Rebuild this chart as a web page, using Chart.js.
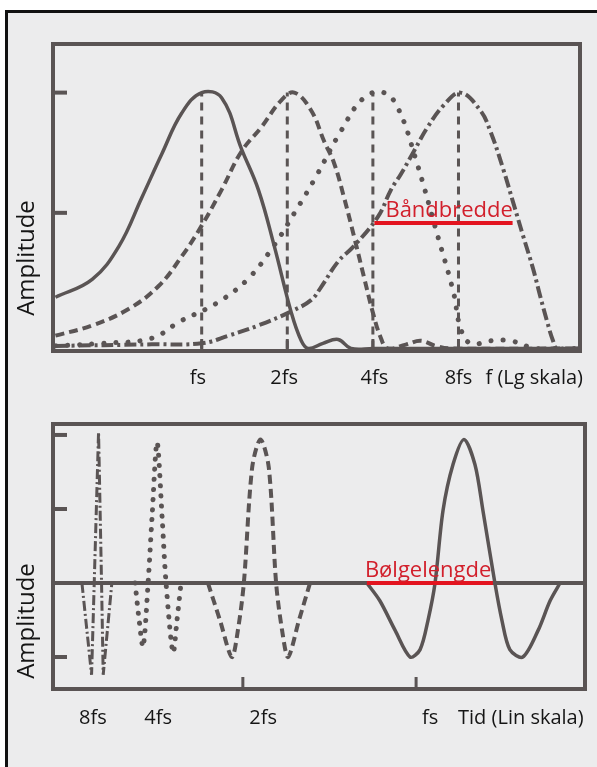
<!DOCTYPE html>
<html>
<head>
<meta charset="utf-8">
<script src="https://cdn.jsdelivr.net/npm/chart.js@4.4.1/dist/chart.umd.min.js"></script>
<style>
  html, body { margin: 0; padding: 0; background: #fff; }
  body { width: 597px; height: 767px; overflow: hidden; position: relative; }
  #paper { position: absolute; left: 5px; top: 10px; width: 700px; height: 800px;
           border: 3px solid #111; background: #ececed; }
  canvas { position: absolute; left: 0; }
  #top { top: 0; }
  #bottom { top: 400px; }
</style>
</head>
<body>
<div id="paper"></div>
<canvas id="top" width="597" height="400"></canvas>
<canvas id="bottom" width="597" height="367"></canvas>
<script>
// ---- top panel: amplitude spectra (frequency in units of fs, log scale)
const fSolid = [0.306, 0.412, 0.512, 0.616, 0.724, 0.851, 1.0, 1.175, 1.38, 1.583, 1.80, 2.066, 2.24, 2.37, 2.67, 3.02, 3.35, 4.0, 21.4];
const aSolid = [0.20, 0.27, 0.40, 0.59, 0.76, 0.92, 1.0, 0.98, 0.78, 0.62, 0.40, 0.14, 0.03, 0.0, 0.02, 0.035, 0.0, 0.0, 0.0];

const fDash = [0.306, 0.412, 0.555, 0.707, 0.851, 1.0, 1.175, 1.38, 1.622, 1.905, 2.116, 2.427, 2.695, 2.92, 3.167, 3.43, 3.72, 4.0, 4.27, 4.51, 5.22, 5.89, 6.65, 7.5, 21.4];
const aDash = [0.05, 0.09, 0.155, 0.245, 0.36, 0.48, 0.62, 0.77, 0.865, 0.97, 1.0, 0.93, 0.81, 0.725, 0.59, 0.44, 0.28, 0.14, 0.04, 0.0, 0.015, 0.03, 0.01, 0.0, 0.0];

const fDot = [0.306, 0.447, 0.668, 0.837, 1.12, 1.45, 1.79, 2.12, 2.49, 3.09, 3.72, 4.37, 4.90, 5.66, 6.76, 7.68, 8.13, 8.81, 10.5, 12.2, 15.0, 21.4];
const aDot = [0.01, 0.02, 0.04, 0.105, 0.175, 0.27, 0.40, 0.53, 0.66, 0.85, 0.98, 1.0, 0.94, 0.74, 0.44, 0.22, 0.08, 0.02, 0.03, 0.03, 0.0, 0.0];

const fDashDot = [0.306, 0.668, 1.0, 1.243, 1.583, 2.066, 2.43, 2.63, 3.02, 3.43, 4.17, 4.63, 5.01, 5.57, 6.23, 7.09, 8.13, 9.55, 10.35, 11.5, 12.46, 13.5, 14.65, 15.5, 16.4, 17.2, 17.8, 21.4];
const aDashDot = [0.01, 0.016, 0.02, 0.05, 0.09, 0.145, 0.19, 0.24, 0.34, 0.40, 0.515, 0.62, 0.68, 0.77, 0.865, 0.95, 1.0, 0.93, 0.85, 0.70, 0.57, 0.44, 0.31, 0.205, 0.105, 0.03, 0.0, 0.0];

const peakFreqs = [1, 2, 4, 8];
const freqLabels = ['fs', '2fs', '4fs', '8fs'];
const freqLabelPos = [0.97, 1.95, 4.05, 8];
const ampTicksTop = [0.53, 1];
const bandF = [4.05, 12.4];
const bandA = 0.49;

// ---- bottom panel: wavelets in time (linear scale, ms)
const tSolid = [94.4, 98.3, 102.9, 107.4, 110.4, 112.8, 114.9, 117.3, 120.3, 123.6, 126.9, 129.3, 132.9, 135.0, 137.4, 141.3, 145.9, 149.5, 152.5];
const wSolid = [0, -0.12, -0.32, -0.5, -0.45, -0.25, 0, 0.49, 0.80, 0.97, 0.80, 0.49, 0, -0.25, -0.45, -0.5, -0.32, -0.12, 0];

const tDash = [46.6, 50.2, 53.8, 55.6, 57.4, 59.9, 62.4, 64.9, 67.1, 68.9, 70.7, 74.0, 77.3];
const wDash = [0, -0.25, -0.5, -0.32, 0, 0.78, 0.97, 0.78, 0, -0.32, -0.5, -0.25, 0];

const tDot = [24.7, 25.9, 27.1, 28.6, 29.8, 31.3, 32.8, 34.0, 36.1, 37.3, 38.5];
const wDot = [0, -0.25, -0.43, 0, 0.45, 0.95, 0.45, 0, -0.47, -0.25, 0];

const tDashDot = [8.7, 11.6, 12.4, 13.7, 14.6, 15.1, 17.7];
const wDashDot = [0, -0.62, 0, 1.02, 0, -0.62, 0];

const tZero = [0, 160];
const timeTicks = [57.1, 109.2];
const timeLabels = ['8fs', '4fs', '2fs', 'fs'];
const timeLabelPos = [12, 31.6, 63.2, 113.4];
const ampTicksBottom = [1, 0.5, -0.5];
const waveT = [94.4, 132.3];

const ink = '#5a5454';
const red = '#e3141f';
const pts = (xs, ys) => xs.map((x, i) => ({ x: x, y: Array.isArray(ys) ? ys[i] : ys }));

function curve(data, dash, width, extra) {
    return Object.assign({
        data: data,
        borderColor: ink,
        borderWidth: width,
        borderDash: dash,
        pointRadius: 0,
        fill: false,
        tension: 0.4
    }, extra || {});
}

// frame, inward ticks, labels and red note
function decor(cfg) {
    return {
        id: 'decor',
        afterDraw(chart) {
            const ctx = chart.ctx, a = chart.chartArea;
            const x = chart.scales.x, y = chart.scales.y;
            ctx.save();
            ctx.strokeStyle = ink;
            ctx.lineWidth = 4;
            ctx.strokeRect(a.left, a.top, a.right - a.left, a.bottom - a.top);
            cfg.yTicks.forEach(v => {
                const py = y.getPixelForValue(v);
                ctx.beginPath(); ctx.moveTo(a.left, py); ctx.lineTo(a.left + 14, py); ctx.stroke();
            });
            ctx.lineWidth = 3;
            cfg.xTicks.forEach(v => {
                const px = x.getPixelForValue(v);
                ctx.beginPath(); ctx.moveTo(px, a.bottom); ctx.lineTo(px, a.bottom - 12); ctx.stroke();
            });

            ctx.fillStyle = '#151515';
            ctx.font = '20px "Open Sans"';
            ctx.textBaseline = 'middle';
            ctx.textAlign = 'center';
            cfg.labelPos.forEach((v, i) => ctx.fillText(cfg.labels[i], x.getPixelForValue(v), cfg.labelY));
            ctx.textAlign = 'left';
            ctx.fillText(cfg.axisName, x.getPixelForValue(cfg.labelPos[cfg.labelPos.length - 1]) + cfg.axisGap, cfg.labelY);

            ctx.save();
            ctx.translate(27, cfg.ampY);
            ctx.rotate(-Math.PI / 2);
            ctx.textAlign = 'center';
            ctx.font = '24px "Open Sans"';
            ctx.fillText('Amplitude', 0, 0);
            ctx.restore();

            ctx.fillStyle = '#d2202c';
            ctx.font = '22px "Open Sans"';
            ctx.textBaseline = 'alphabetic';
            ctx.textAlign = 'left';
            ctx.fillText(cfg.note, x.getPixelForValue(cfg.noteAt[0]) + cfg.noteDx, y.getPixelForValue(cfg.noteAt[1]) - 6);
            ctx.restore();
        }
    };
}

const common = {
    responsive: false,
    animation: false,
    devicePixelRatio: 1,
    plugins: { legend: { display: false }, tooltip: { enabled: false } },
    elements: { point: { radius: 0 } }
};

new Chart(document.getElementById('top'), {
    type: 'line',
    data: {
        datasets: [
            curve(pts(bandF, bandA), [], 4, { borderColor: red, order: -1, tension: 0 }),
            curve(pts(fSolid, aSolid), [], 3.5),
            curve(pts(fDash, aDash), [9, 5], 4),
            curve(pts(fDot, aDot), [0.1, 12], 5, { borderCapStyle: 'round' }),
            curve(pts(fDashDot, aDashDot), [12, 4, 3, 4], 4),
            ...peakFreqs.map(f => curve([{ x: f, y: 0 }, { x: f, y: 1 }], [8, 6], 3, { tension: 0 }))
        ]
    },
    options: Object.assign({}, common, {
        layout: { padding: { left: 53, right: 17, top: 44, bottom: 49 } },
        scales: {
            x: { type: 'logarithmic', min: 0.306, max: 21.4, display: false },
            y: { type: 'linear', min: -0.01, max: 1.19, display: false }
        }
    }),
    plugins: [decor({
        yTicks: ampTicksTop, xTicks: peakFreqs,
        labels: freqLabels, labelPos: freqLabelPos, labelY: 378,
        axisName: 'f (Lg skala)', axisGap: 27, ampY: 258,
        note: 'Båndbredde', noteAt: [bandF[0], bandA], noteDx: 11
    })]
});

new Chart(document.getElementById('bottom'), {
    type: 'line',
    data: {
        datasets: [
            curve(pts(waveT, 0), [], 4, { borderColor: red, order: -1, tension: 0 }),
            curve(pts(tZero, 0), [], 4, { tension: 0 }),
            curve(pts(tSolid, wSolid), [], 3.5, { tension: 0.3 }),
            curve(pts(tDash, wDash), [9, 5], 4, { tension: 0.3 }),
            curve(pts(tDot, wDot), [0.1, 10], 5, { borderCapStyle: 'round', tension: 0.3 }),
            curve(pts(tDashDot, wDashDot), [10, 3, 2, 3], 3, { tension: 0 })
        ]
    },
    options: Object.assign({}, common, {
        layout: { padding: { left: 53, right: 12, top: 24, bottom: 78 } },
        scales: {
            x: { type: 'linear', min: 0, max: 160, display: false },
            y: { type: 'linear', min: -0.716, max: 1.074, display: false }
        }
    }),
    plugins: [decor({
        yTicks: ampTicksBottom, xTicks: timeTicks,
        labels: timeLabels, labelPos: timeLabelPos, labelY: 318,
        axisName: 'Tid (Lin skala)', axisGap: 28, ampY: 221,
        note: 'Bølgelengde', noteAt: [waveT[0], 0], noteDx: -2
    })]
});
</script>
</body>
</html>
